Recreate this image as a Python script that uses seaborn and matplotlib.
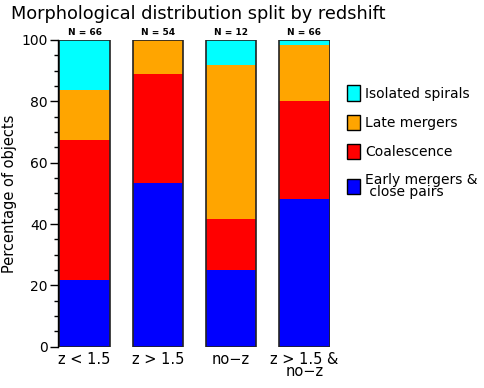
import numpy as np
import pandas as pd
import seaborn as sns
import matplotlib
matplotlib.use("Agg")
from matplotlib import pyplot as plt
from matplotlib.patches import Patch
from matplotlib.ticker import MultipleLocator

sns.set_style("ticks")
plt.rcParams['font.family'] = ['DejaVu Sans']
plt.rcParams['text.color'] = 'black'
plt.rcParams['axes.labelcolor'] = 'black'
plt.rcParams['xtick.color'] = 'black'
plt.rcParams['ytick.color'] = 'black'
plt.rcParams['axes.edgecolor'] = 'black'

# data (percent of objects per sample)
samples = ["z < 1.5", "z > 1.5", "no\u2212z", "z > 1.5 &\nno\u2212z"]
n_objects = [66, 54, 12, 66]
early_pairs = [21.7, 53.5, 25.0, 48.3]
coalescence = [45.7, 35.4, 16.7, 31.8]
late_mergers = [16.3, 11.1, 50.0, 18.4]
isolated = [16.3, 0.0, 8.3, 1.5]

layers = ["Isolated spirals", "Late mergers", "Coalescence", "Early mergers &\n close pairs"]
colors = {"Isolated spirals": "#00ffff", "Late mergers": "#ffa500",
          "Coalescence": "#ff0000", "Early mergers &\n close pairs": "#0000ff"}

df = pd.DataFrame({"sample": samples,
                   "Early mergers &\n close pairs": early_pairs,
                   "Coalescence": coalescence,
                   "Late mergers": late_mergers,
                   "Isolated spirals": isolated})
# cumulative tops, bottom layer first
order = layers[::-1]
cum = df[order].cumsum(axis=1)
cum["sample"] = df["sample"]

fig = plt.figure(figsize=(4.85, 3.88), dpi=100)
ax = fig.add_axes([0.1206, 0.1064, 0.5606, 0.7906])

bar_w = 0.69
# draw tallest stack first so lower layers sit on top of it
for name in layers:
    sns.barplot(data=cum, x="sample", y=name, color=colors[name], width=bar_w,
                saturation=1, linewidth=0, ax=ax, errorbar=None)
# outline of each full bar
sns.barplot(data=cum, x="sample", y="Isolated spirals", fill=False, width=bar_w,
            edgecolor="#222222", linewidth=1.2, ax=ax, errorbar=None)

ax.set_xlim(-bar_w / 2 - 0.01, 3 + bar_w / 2 + 0.01)
ax.set_ylim(0, 100)
ax.yaxis.set_major_locator(MultipleLocator(20))
ax.yaxis.set_minor_locator(MultipleLocator(5))
ax.tick_params(axis="y", which="major", length=6, width=1, labelsize=10, pad=2)
ax.tick_params(axis="y", which="minor", length=3, width=1)
ax.tick_params(axis="x", length=0, labelsize=10.5, pad=4)
for lbl in ax.get_xticklabels():
    lbl.set_linespacing(0.75)
sns.despine(ax=ax, bottom=True)
ax.spines["left"].set_linewidth(1)
ax.set_xlabel("")
ax.set_ylabel("Percentage of objects", fontsize=10.5, labelpad=3)

for i, n in enumerate(n_objects):
    ax.text(i, 101, f"N = {n}", ha="center", va="bottom", fontsize=6.5,
            fontweight="bold")

fig.text(0.022, 0.963, "Morphological distribution split by redshift",
         fontsize=12.8, ha="left", va="center")

handles = [Patch(facecolor=colors[k], edgecolor="black", linewidth=1) for k in layers]
leg = ax.legend(handles, layers, loc="upper left", bbox_to_anchor=(0.69, 0.812),
                bbox_transform=fig.transFigure, frameon=False, fontsize=10,
                handlelength=0.9, handleheight=1.3, handletextpad=0.4,
                labelspacing=1.0)
for t in leg.get_texts():
    t.set_linespacing(0.85)

plt.savefig("out.png", dpi=100)
